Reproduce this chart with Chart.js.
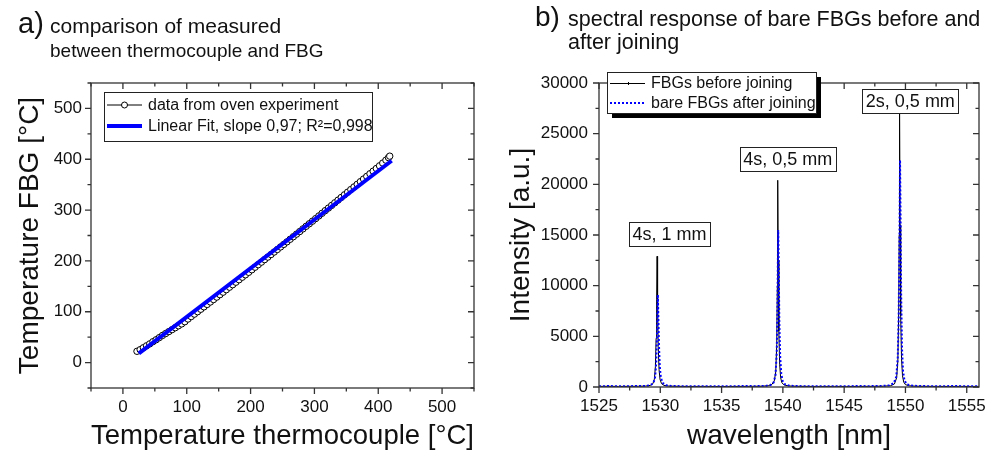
<!DOCTYPE html>
<html>
<head>
<meta charset="utf-8">
<script src="https://cdn.jsdelivr.net/npm/chart.js@4.4.0/dist/chart.umd.min.js"></script>
<style>
  body { margin: 0; background: #fff; }
  #wrap { position: relative; width: 1000px; height: 453px; }
  canvas { position: absolute; top: 0; }
  #ca { left: 0; }
  #cb { left: 500px; }
</style>
</head>
<body>
<div id="wrap">
  <canvas id="ca" width="500" height="453"></canvas>
  <canvas id="cb" width="500" height="453"></canvas>
</div>
<script>
// ---- panel a: oven experiment ----
const tcTemp = [22, 27, 32, 37, 42, 47, 52, 57, 62, 67,
  72, 77, 82, 87, 92, 97, 102, 107, 112, 117,
  122, 127, 132, 137, 142, 147, 152, 157, 162, 167,
  172, 177, 182, 187, 192, 197, 202, 207, 212, 217,
  222, 227, 232, 237, 242, 247, 252, 257, 262, 267,
  272, 277, 282, 287, 292, 297, 302, 307, 312, 317,
  322, 327, 332, 337, 342, 347, 352, 357, 362, 367,
  372, 377, 382, 387, 392, 397, 402, 407, 412, 416,
  418];
const fbgTemp = [22.2, 25.4, 29.2, 33, 36.8, 41.1, 44.9, 49.1, 53.4, 57.2,
  61, 64.8, 68.6, 72.4, 76.1, 80.4, 85.7, 90.5, 95.3, 100.1,
  104.9, 109.6, 114.4, 119.2, 124, 128.8, 133.6, 138.5, 143.4, 148.3,
  153.2, 158.1, 163, 167.9, 172.7, 177.6, 182.6, 187.6, 192.6, 197.6,
  202.6, 207.5, 212.5, 217.5, 222.5, 227.5, 232.5, 237.5, 242.6, 247.6,
  252.7, 257.8, 263, 268.1, 273.1, 278.2, 283.3, 288.5, 293.7, 298.9,
  304, 309.2, 314.4, 319.6, 324.8, 330, 335.2, 340.4, 345.5, 350.7,
  355.9, 361.1, 366.3, 371.5, 376.6, 381.8, 387.1, 392.5, 398.2, 403.2,
  406.1];
const fitX = [25, 421];
const fitY = [18, 397];
const tempTicks = [0, 100, 200, 300, 400, 500];

// ---- panel b: spectra ----
const wlBefore = [1525.0, 1525.8, 1526.6, 1527.4, 1528.2, 1528.8, 1529.2, 1529.4, 1529.52, 1529.6,
  1529.66, 1529.7, 1529.74, 1529.78, 1529.83, 1529.9, 1529.98, 1530.1, 1530.3, 1530.7,
  1531.5, 1532.5, 1533.5, 1534.5, 1535.5, 1536.5, 1537.5, 1538.3, 1538.8, 1539.1,
  1539.3, 1539.42, 1539.5, 1539.55, 1539.58, 1539.62, 1539.67, 1539.74, 1539.82, 1539.92,
  1540.1, 1540.5, 1541.2, 1542.2, 1543.2, 1544.2, 1545.2, 1546.2, 1547.2, 1548.2,
  1548.8, 1549.1, 1549.28, 1549.38, 1549.45, 1549.49, 1549.52, 1549.56, 1549.61, 1549.68,
  1549.76, 1549.86, 1550.0, 1550.3, 1550.8, 1551.6, 1552.6, 1553.6, 1554.6, 1555.4, 1556.0];
const intBefore = [60, 70, 55, 65, 70, 90, 160, 330, 800, 2000,
  4800, 8600, 12900, 8200, 4000, 1700, 750, 330, 160, 90,
  65, 55, 60, 50, 55, 60, 65, 80, 120, 250,
  600, 1500, 4200, 10000, 20400, 12500, 5500, 2200, 900, 420,
  200, 100, 70, 60, 55, 60, 55, 60, 65, 80,
  130, 300, 900, 2600, 7500, 15000, 27000, 16000, 7000, 2800,
  1100, 480, 230, 120, 80, 65, 60, 55, 60, 55, 60];
const wlAfter = [1525.0, 1525.8, 1526.6, 1527.4, 1528.2, 1528.8, 1529.2, 1529.45, 1529.58, 1529.67,
  1529.73, 1529.77, 1529.8, 1529.84, 1529.89, 1529.96, 1530.05, 1530.2, 1530.45, 1530.9,
  1531.8, 1532.8, 1533.8, 1534.8, 1535.8, 1536.8, 1537.8, 1538.6, 1539.0, 1539.25,
  1539.4, 1539.5, 1539.56, 1539.6, 1539.62, 1539.66, 1539.71, 1539.78, 1539.87, 1539.98,
  1540.15, 1540.5, 1541.1, 1542.0, 1543.0, 1544.0, 1545.0, 1546.0, 1547.0, 1548.0,
  1548.7, 1549.05, 1549.25, 1549.37, 1549.45, 1549.51, 1549.56, 1549.6, 1549.65, 1549.72,
  1549.8, 1549.92, 1550.1, 1550.45, 1551.0, 1551.8, 1552.8, 1553.8, 1554.8, 1555.5, 1556.0];
const intAfter = [80, 90, 75, 85, 90, 110, 180, 400, 1000, 2400,
  5000, 7600, 9100, 7000, 4200, 2000, 900, 400, 180, 100,
  80, 75, 85, 70, 80, 90, 85, 110, 200, 450,
  1200, 3400, 8000, 13500, 15500, 12000, 6500, 3000, 1300, 600,
  280, 140, 90, 80, 75, 85, 80, 90, 85, 100,
  160, 380, 1000, 2800, 7000, 14500, 22400, 17000, 9000, 3800,
  1600, 650, 280, 140, 95, 85, 80, 90, 85, 80, 85];
const wlTicks = [1525, 1530, 1535, 1540, 1545, 1550, 1555];
const intTicks = [0, 5000, 10000, 15000, 20000, 25000, 30000];
const peakLabels = ['4s, 1 mm', '4s, 0,5 mm', '2s, 0,5 mm'];
const peakLabelX = [1530.75, 1540.4, 1550.4];
const peakLabelY = [15050, 22500, 28220];

const headA = ['comparison of measured', 'between thermocouple and FBG'];
const headB = ['spectral response of bare FBGs before and', 'after joining'];

const FONT = '"Liberation Sans", Arial, sans-serif';
const INK = '#111';
Chart.defaults.font.family = FONT;
Chart.defaults.color = INK;

const toXY = (xs, ys) => xs.map((v, i) => ({ x: v, y: ys[i] }));
const plain = v => String(v);

// box + major/minor ticks on all four sides (outward left/bottom, inward right/top)
function framePlugin(minorX, minorY) {
  return {
    id: 'frame',
    afterDatasetsDraw(chart) {
      const { ctx, chartArea: a, scales: { x, y } } = chart;
      const majX = x.ticks.map(t => t.value);
      const majY = y.ticks.map(t => t.value);
      const isMaj = (arr, v) => arr.some(m => Math.abs(m - v) < 1e-6);
      ctx.save();
      ctx.strokeStyle = '#333';
      ctx.lineWidth = 1.3;
      ctx.strokeRect(a.left, a.top, a.width, a.height);
      ctx.beginPath();
      for (let v = minorX.start; v <= x.max + 1e-6; v += minorX.step) {
        const len = isMaj(majX, v) ? 6 : 3.5;
        const p = x.getPixelForValue(v);
        ctx.moveTo(p, a.bottom); ctx.lineTo(p, a.bottom + len);
        ctx.moveTo(p, a.top); ctx.lineTo(p, a.top + len);
      }
      for (let v = minorY.start; v <= y.max + 1e-6; v += minorY.step) {
        const len = isMaj(majY, v) ? 6 : 3.5;
        const p = y.getPixelForValue(v);
        ctx.moveTo(a.left, p); ctx.lineTo(a.left - len, p);
        ctx.moveTo(a.right, p); ctx.lineTo(a.right - len, p);
      }
      ctx.stroke();
      ctx.restore();
    }
  };
}

function headingPlugin(tag, tagX, tagY, tagSize, lines, textX, baselines, sizes) {
  return {
    id: 'heading',
    afterDraw(chart) {
      const ctx = chart.ctx;
      ctx.save();
      ctx.fillStyle = INK;
      ctx.textBaseline = 'alphabetic';
      ctx.font = tagSize + 'px ' + FONT;
      ctx.fillText(tag, tagX, tagY);
      lines.forEach((t, i) => {
        ctx.font = sizes[i] + 'px ' + FONT;
        ctx.fillText(t, textX, baselines[i]);
      });
      ctx.restore();
    }
  };
}

function legendPlugin(box, rows, shadow) {
  return {
    id: 'boxLegend',
    afterDraw(chart) {
      const ctx = chart.ctx;
      ctx.save();
      if (shadow) {
        ctx.fillStyle = '#000';
        ctx.fillRect(box.x + shadow, box.y + shadow, box.w, box.h);
      }
      ctx.fillStyle = '#fff';
      ctx.fillRect(box.x, box.y, box.w, box.h);
      ctx.strokeStyle = '#222';
      ctx.lineWidth = 1;
      ctx.strokeRect(box.x + 0.5, box.y + 0.5, box.w, box.h);
      ctx.font = '16px ' + FONT;
      ctx.textBaseline = 'middle';
      rows.forEach(r => {
        r.sample(ctx, box.x + 3, box.x + box.sample, r.y);
        ctx.fillStyle = INK;
        ctx.fillText(r.label, box.x + box.sample + 6, r.y + 1);
      });
      ctx.restore();
    }
  };
}

// ---------- chart a ----------
new Chart(document.getElementById('ca'), {
  type: 'line',
  data: {
    datasets: [
      {
        label: 'Linear Fit, slope 0,97; R²=0,998',
        data: toXY(fitX, fitY),
        borderColor: '#0000ff',
        borderWidth: 4,
        pointRadius: 0,
        order: 0
      },
      {
        label: 'data from oven experiment',
        data: toXY(tcTemp, fbgTemp),
        borderColor: '#000',
        borderWidth: 1,
        pointRadius: 3.2,
        pointBackgroundColor: '#fff',
        pointBorderColor: '#000',
        pointBorderWidth: 1,
        order: 1
      }
    ]
  },
  options: {
    responsive: false,
    animation: false,
    devicePixelRatio: 1,
    layout: { padding: { top: 83, right: 26, left: 0, bottom: 0 } },
    scales: {
      x: {
        type: 'linear',
        min: -50, max: 550,
        afterBuildTicks: s => { s.ticks = tempTicks.map(v => ({ value: v })); },
        afterFit: s => { s.height = 65; },
        grid: { display: false, drawTicks: false },
        border: { display: false },
        ticks: { font: { size: 17 }, padding: 9, color: INK, callback: plain },
        title: { display: true, text: 'Temperature thermocouple [°C]', font: { size: 28 }, padding: { top: 0, bottom: 0 }, color: INK }
      },
      y: {
        min: -50, max: 550,
        afterBuildTicks: s => { s.ticks = tempTicks.map(v => ({ value: v })); },
        afterFit: s => { s.width = 91; },
        grid: { display: false, drawTicks: false },
        border: { display: false },
        ticks: { font: { size: 17 }, padding: 9, color: INK, callback: plain },
        title: { display: true, text: 'Temperature FBG [°C]', font: { size: 28 }, padding: { top: 13, bottom: 0 }, color: INK }
      }
    },
    plugins: { legend: { display: false }, tooltip: { enabled: false } }
  },
  plugins: [
    framePlugin({ start: -50, step: 50 }, { start: -50, step: 50 }),
    legendPlugin({ x: 104, y: 92, w: 268, h: 49, sample: 38 }, [
      { label: 'data from oven experiment', y: 105, sample: (ctx, x0, x1, y) => {
          ctx.strokeStyle = '#000'; ctx.lineWidth = 1;
          ctx.beginPath(); ctx.moveTo(x0, y); ctx.lineTo(x1, y); ctx.stroke();
          ctx.fillStyle = '#fff'; ctx.beginPath(); ctx.arc((x0 + x1) / 2, y, 3, 0, Math.PI * 2); ctx.fill(); ctx.stroke();
        } },
      { label: 'Linear Fit, slope 0,97; R²=0,998', y: 126, sample: (ctx, x0, x1, y) => {
          ctx.strokeStyle = '#0000ff'; ctx.lineWidth = 4;
          ctx.beginPath(); ctx.moveTo(x0, y); ctx.lineTo(x1, y); ctx.stroke();
        } }
    ], 0),
    headingPlugin('a)', 18, 33, 29, headA, 50, [33, 57], [21, 19])
  ]
});

// ---------- chart b ----------
const peakBoxes = {
  id: 'peakBoxes',
  afterDraw(chart) {
    const { ctx, scales: { x, y } } = chart;
    ctx.save();
    ctx.font = '18px ' + FONT;
    ctx.textAlign = 'center';
    ctx.textBaseline = 'middle';
    peakLabels.forEach((t, i) => {
      const cx = x.getPixelForValue(peakLabelX[i]);
      const cy = y.getPixelForValue(peakLabelY[i]);
      const w = ctx.measureText(t).width + 7;
      const h = 24;
      ctx.fillStyle = '#fff';
      ctx.fillRect(cx - w / 2, cy - h / 2, w, h);
      ctx.strokeStyle = '#222';
      ctx.lineWidth = 1;
      ctx.strokeRect(Math.round(cx - w / 2) + 0.5, Math.round(cy - h / 2) + 0.5, Math.round(w), h);
      ctx.fillStyle = INK;
      ctx.fillText(t, cx, cy + 1);
    });
    ctx.restore();
  }
};

new Chart(document.getElementById('cb'), {
  type: 'line',
  data: {
    datasets: [
      {
        label: 'bare FBGs after joining',
        data: toXY(wlAfter, intAfter),
        borderColor: '#0000ff',
        borderWidth: 2,
        borderDash: [2, 2],
        pointRadius: 0,
        order: 0
      },
      {
        label: 'FBGs before joining',
        data: toXY(wlBefore, intBefore),
        borderColor: '#000',
        borderWidth: 1,
        pointRadius: 0,
        order: 1
      }
    ]
  },
  options: {
    responsive: false,
    animation: false,
    devicePixelRatio: 1,
    layout: { padding: { top: 83, right: 21, left: 0, bottom: 0 } },
    scales: {
      x: {
        type: 'linear',
        min: 1525, max: 1556,
        afterBuildTicks: s => { s.ticks = wlTicks.map(v => ({ value: v })); },
        afterFit: s => { s.height = 66; },
        grid: { display: false, drawTicks: false },
        border: { display: false },
        ticks: { font: { size: 17 }, padding: 9, color: INK, callback: plain },
        title: { display: true, text: 'wavelength [nm]', font: { size: 28 }, padding: { top: 0, bottom: 0 }, color: INK }
      },
      y: {
        min: 0, max: 30000,
        afterBuildTicks: s => { s.ticks = intTicks.map(v => ({ value: v })); },
        afterFit: s => { s.width = 99; },
        grid: { display: false, drawTicks: false },
        border: { display: false },
        ticks: { font: { size: 17 }, padding: 11, color: INK, callback: plain },
        title: { display: true, text: 'Intensity [a.u.]', font: { size: 28 }, padding: { top: 4, bottom: 0 }, color: INK }
      }
    },
    plugins: { legend: { display: false }, tooltip: { enabled: false } }
  },
  plugins: [
    framePlugin({ start: 1525, step: 2.5 }, { start: 0, step: 2500 }),
    peakBoxes,
    legendPlugin({ x: 107, y: 72, w: 209, h: 41, sample: 38 }, [
      { label: 'FBGs before joining', y: 83, sample: (ctx, x0, x1, y) => {
          ctx.strokeStyle = '#000'; ctx.lineWidth = 1;
          ctx.beginPath(); ctx.moveTo(x0, y + 0.5); ctx.lineTo(x1, y + 0.5);
          const m = Math.round((x0 + x1) / 2) + 0.5;
          ctx.moveTo(m, y - 1); ctx.lineTo(m, y + 2); ctx.stroke();
        } },
      { label: 'bare FBGs after joining', y: 103, sample: (ctx, x0, x1, y) => {
          ctx.strokeStyle = '#0000ff'; ctx.lineWidth = 2; ctx.setLineDash([2, 2]);
          ctx.beginPath(); ctx.moveTo(x0, y); ctx.lineTo(x1, y); ctx.stroke();
          ctx.setLineDash([]);
        } }
    ], 5),
    headingPlugin('b)', 35, 26, 28, headB, 68, [26, 49], [21.5, 21.5])
  ]
});
</script>
</body>
</html>
